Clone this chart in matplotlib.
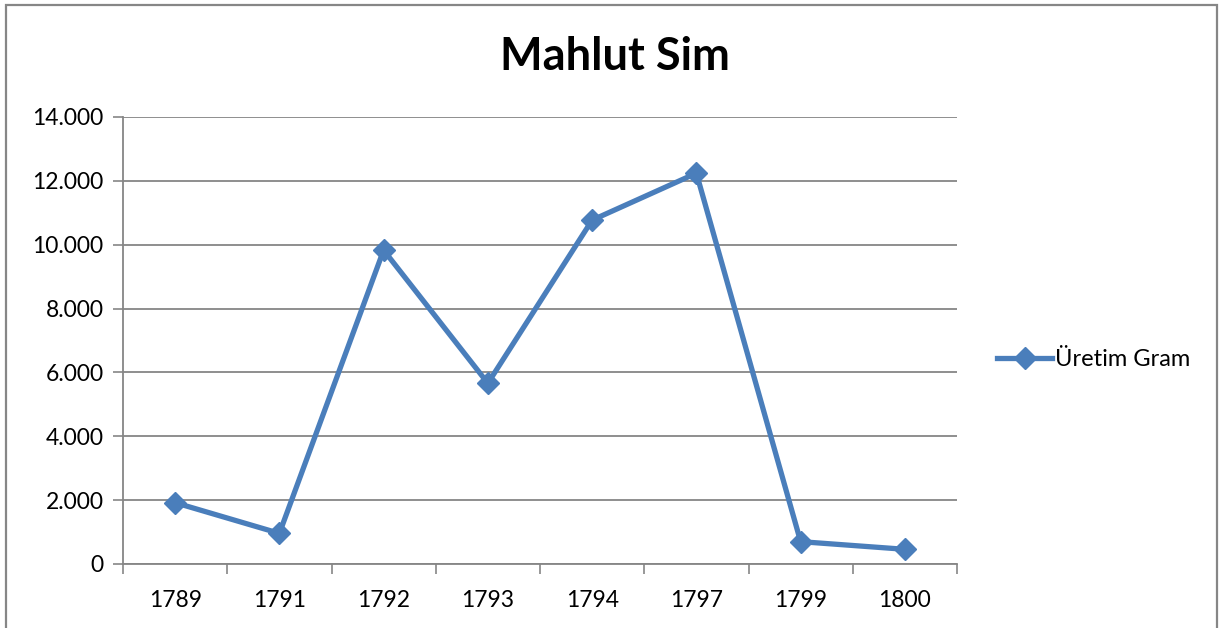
import matplotlib
matplotlib.use("Agg")
import matplotlib.pyplot as plt
from matplotlib.patches import Rectangle

plt.rcParams['font.family'] = ['Lato', 'DejaVu Sans']

years = ['1789', '1791', '1792', '1793', '1794', '1797', '1799', '1800']
values = [1920, 960, 9830, 5660, 10770, 12240, 700, 460]
yticks = [0, 2000, 4000, 6000, 8000, 10000, 12000, 14000]
ytick_labels = ['0', '2.000', '4.000', '6.000', '8.000', '10.000', '12.000', '14.000']
series_name = 'Üretim Gram'
title = 'Mahlut Sim'

color = '#4A7EBB'
grid_c = '#868686'

fig = plt.figure(figsize=(12.21, 6.28), dpi=100)
fig.patches.append(Rectangle((6/1221, -0.05), 1211/1221, 1.05 - 5/628, transform=fig.transFigure,
                             fill=False, edgecolor='#868686', linewidth=1.6))
ax = fig.add_axes([123/1221, 1 - 564/628, (957 - 123)/1221, (564 - 117)/628])

x = list(range(len(years)))
ax.plot(x, values, color=color, linewidth=3.8, marker='D', markersize=11,
        label=series_name, solid_joinstyle='miter')

ax.set_xlim(-0.5, len(years) - 0.5)
ax.set_ylim(0, 14000)
ax.set_yticks(yticks)
ax.set_yticklabels(ytick_labels)
ax.set_xticks([i - 0.5 for i in range(len(years) + 1)])
ax.set_xticklabels([])
ax.set_xticks(x, minor=True)
ax.set_xticklabels(years, minor=True)
ax.tick_params(axis='x', which='minor', length=0, pad=19, labelsize=16.5)
ax.tick_params(axis='x', which='major', length=7, color=grid_c, width=1.2)
ax.tick_params(axis='y', length=7, color=grid_c, width=1.2, labelsize=16.5, pad=7)

ax.yaxis.grid(True, color=grid_c, linewidth=1.3)
ax.set_axisbelow(True)
for s in ['top', 'right']:
    ax.spines[s].set_visible(False)
ax.spines['left'].set_color(grid_c)
ax.spines['left'].set_linewidth(1.3)
ax.spines['bottom'].set_color(grid_c)
ax.spines['bottom'].set_linewidth(1.3)

fig.text(615/1221, 1 - 57/628, title, ha='center', va='center', fontsize=32.5, fontweight='bold')

leg = ax.legend(loc='center left', bbox_to_anchor=(1.023, 0.458), frameon=False,
                fontsize=17, handlelength=2.3, handletextpad=0.15)

fig.savefig('out.png', dpi=100)
